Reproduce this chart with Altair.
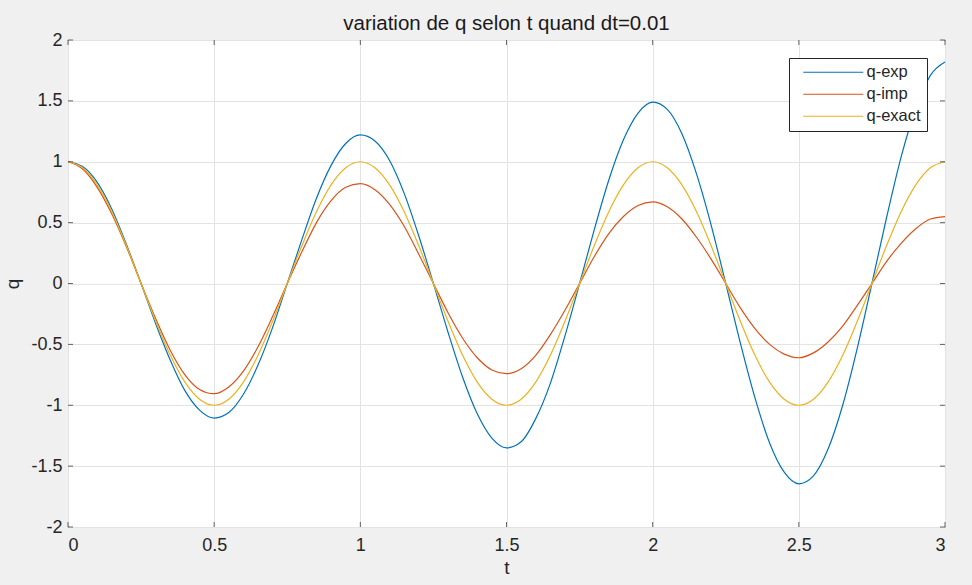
import altair as alt
import pandas as pd

# time samples (s)
t = [0.00, 0.05, 0.10, 0.15, 0.20, 0.25, 0.30, 0.35, 0.40, 0.45,
     0.50, 0.55, 0.60, 0.65, 0.70, 0.75, 0.80, 0.85, 0.90, 0.95,
     1.00, 1.05, 1.10, 1.15, 1.20, 1.25, 1.30, 1.35, 1.40, 1.45,
     1.50, 1.55, 1.60, 1.65, 1.70, 1.75, 1.80, 1.85, 1.90, 1.95,
     2.00, 2.05, 2.10, 2.15, 2.20, 2.25, 2.30, 2.35, 2.40, 2.45,
     2.50, 2.55, 2.60, 2.65, 2.70, 2.75, 2.80, 2.85, 2.90, 2.95,
     3.00]

# explicit Euler scheme (amplitude grows)
q_exp = [1.00, 0.96, 0.83, 0.61, 0.32, 0.00, -0.33, -0.63, -0.88, -1.04,
         -1.105, -1.06, -0.91, -0.67, -0.36, 0.00, 0.36, 0.70, 0.97, 1.15,
         1.22, 1.17, 1.01, 0.74, 0.39, 0.00, -0.40, -0.77, -1.07, -1.27,
         -1.35, -1.30, -1.11, -0.82, -0.43, 0.00, 0.44, 0.85, 1.18, 1.40,
         1.49, 1.43, 1.23, 0.90, 0.48, 0.00, -0.49, -0.94, -1.31, -1.55,
         -1.645, -1.58, -1.36, -1.00, -0.53, 0.00, 0.54, 1.04, 1.44, 1.71,
         1.82]

# implicit Euler scheme (amplitude decays)
q_imp = [1.00, 0.94, 0.79, 0.57, 0.30, 0.00, -0.29, -0.55, -0.75, -0.87,
         -0.905, -0.85, -0.72, -0.52, -0.27, 0.00, 0.26, 0.50, 0.68, 0.79,
         0.82, 0.77, 0.65, 0.47, 0.24, 0.00, -0.24, -0.45, -0.61, -0.71,
         -0.74, -0.70, -0.59, -0.42, -0.22, 0.00, 0.22, 0.41, 0.55, 0.64,
         0.67, 0.63, 0.53, 0.38, 0.20, 0.00, -0.20, -0.37, -0.50, -0.58,
         -0.61, -0.57, -0.48, -0.35, -0.18, 0.00, 0.18, 0.33, 0.45, 0.53,
         0.55]

# exact solution
q_exact = [1.00, 0.95, 0.81, 0.59, 0.31, 0.00, -0.31, -0.59, -0.81, -0.95,
           -1.00, -0.95, -0.81, -0.59, -0.31, 0.00, 0.31, 0.59, 0.81, 0.95,
           1.00, 0.95, 0.81, 0.59, 0.31, 0.00, -0.31, -0.59, -0.81, -0.95,
           -1.00, -0.95, -0.81, -0.59, -0.31, 0.00, 0.31, 0.59, 0.81, 0.95,
           1.00, 0.95, 0.81, 0.59, 0.31, 0.00, -0.31, -0.59, -0.81, -0.95,
           -1.00, -0.95, -0.81, -0.59, -0.31, 0.00, 0.31, 0.59, 0.81, 0.95,
           1.00]

series_names = ["q-exp", "q-imp", "q-exact"]
series_colors = ["#0072BD", "#D95319", "#EDB120"]

x_ticks = [0, 0.5, 1, 1.5, 2, 2.5, 3]
y_ticks = [-2, -1.5, -1, -0.5, 0, 0.5, 1, 1.5, 2]

W, H = 877, 487
FONT = "Liberation Sans"
INK = "#262626"

rows = []
for name, vals in zip(series_names, [q_exp, q_imp, q_exact]):
    for ti, qi in zip(t, vals):
        rows.append({"t": ti, "q": qi, "serie": name})
df = pd.DataFrame(rows)

x_scale = alt.Scale(domain=[0, 3], nice=False, zero=False)
y_scale = alt.Scale(domain=[-2, 2], nice=False, zero=False)
x_axis = alt.Axis(values=x_ticks, labelExpr="datum.value + ''")
y_axis = alt.Axis(values=y_ticks, labelExpr="datum.value + ''")

lines = alt.Chart(df).mark_line(strokeWidth=1.2, interpolate="monotone").encode(
    x=alt.X("t:Q", scale=x_scale, title="t", axis=x_axis),
    y=alt.Y("q:Q", scale=y_scale, title="q", axis=y_axis),
    color=alt.Color(
        "serie:N",
        scale=alt.Scale(domain=series_names, range=series_colors),
        sort=series_names,
        legend=alt.Legend(
            title=None, orient="none", legendX=721, legendY=18,
            fillColor="white", strokeColor=INK, padding=6,
            # short line segment placed before the label
            symbolType="M0,0H10", symbolSize=144, symbolStrokeWidth=1.2,
            labelFont=FONT, labelFontSize=16.5, labelColor=INK,
            labelOffset=55, rowPadding=5,
        ),
    ),
    order=alt.Order("t:Q"),
)

# inward tick marks on the four sides of the box
xt = pd.DataFrame({"v": x_ticks})
yt = pd.DataFrame({"v": y_ticks})
tick_style = dict(color=INK, size=5, thickness=1)
ticks_bottom = alt.Chart(xt).mark_tick(orient="vertical", **tick_style).encode(
    x=alt.X("v:Q", scale=x_scale, title="t", axis=x_axis), y=alt.value(H - 2.5))
ticks_top = alt.Chart(xt).mark_tick(orient="vertical", **tick_style).encode(
    x=alt.X("v:Q", scale=x_scale, title="t", axis=x_axis), y=alt.value(2.5))
ticks_left = alt.Chart(yt).mark_tick(orient="horizontal", **tick_style).encode(
    y=alt.Y("v:Q", scale=y_scale, title="q", axis=y_axis), x=alt.value(2.5))
ticks_right = alt.Chart(yt).mark_tick(orient="horizontal", **tick_style).encode(
    y=alt.Y("v:Q", scale=y_scale, title="q", axis=y_axis), x=alt.value(W - 2.5))

chart = alt.layer(lines, ticks_bottom, ticks_top, ticks_left, ticks_right).properties(
    width=W, height=H,
    title=alt.TitleParams("variation de q selon t quand dt=0.01", anchor="middle",
                          fontSize=20.5, fontWeight="normal", font=FONT,
                          color="#1a1a1a", offset=-3),
    autosize=alt.AutoSizeParams(type="none"),
    padding={"left": 68, "top": 40, "right": 27, "bottom": 58},
    background="#f0f0f0",
).configure_view(
    fill="white", stroke=INK, strokeWidth=1
).configure_axis(
    domain=False, ticks=False, tickSize=0, grid=True, gridColor="#e3e3e3",
    gridWidth=1, labelFont=FONT, labelFontSize=18, labelColor=INK,
    titleFont=FONT, titleFontSize=19, titleFontWeight="normal", titleColor=INK,
).configure_axisX(
    labelPadding=9, titlePadding=4
).configure_axisY(
    labelPadding=6, titlePadding=8
)

chart.save("out.html", embed_options={"renderer": "svg", "actions": False})
